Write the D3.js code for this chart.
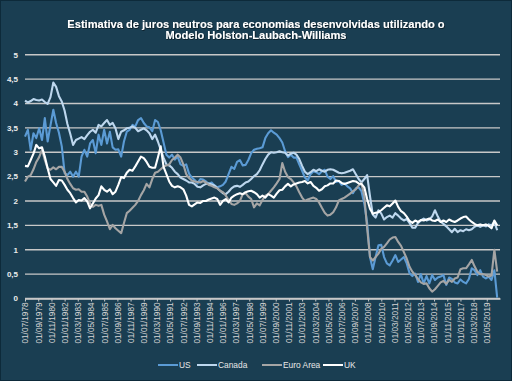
<!DOCTYPE html>
<html><head><meta charset="utf-8">
<script src="https://cdn.jsdelivr.net/npm/d3@7"></script>
<style>body{margin:0;background:#1a3e52;} svg{display:block}</style>
</head><body>
<script>
// ---------------- DATA ----------------
const titleLines = ["Estimativa de juros neutros para economias desenvolvidas utilizando o",
                    "Modelo Holston-Laubach-Williams"];
const startDate = "01/07/1978";          // first quarterly observation
const seriesNames = ["US", "Canada", "Euro Area", "UK"];
const usValues = [3.32,3.46,3.05,3.39,3.29,3.49,3.25,3.70,3.22,3.55,3.87,3.60,3.40,3.12,
  2.57,2.53,2.60,2.50,2.60,2.50,2.91,3.05,2.91,3.18,3.25,2.98,3.36,3.15,3.46,3.18,3.42,3.10,3.05,3.06,2.91,3.22,3.42,3.46,3.56,3.53,3.66,3.70,
  3.60,3.53,3.51,3.43,3.66,3.62,3.45,3.20,2.95,2.89,2.95,2.85,2.91,2.75,2.72,2.75,2.56,2.48,2.43,2.36,2.45,2.44,2.40,2.35,2.38,2.32,2.28,2.30,2.33,2.40,2.55,2.70,2.66,2.80,2.84,2.73,2.74,2.84,2.98,3.05,3.07,3.08,
  3.10,3.29,3.39,3.45,3.40,3.36,3.29,3.20,3.02,2.90,2.95,2.89,2.89,2.75,2.62,2.48,2.42,2.55,2.61,2.59,2.55,2.61,2.64,2.50,2.45,2.51,2.39,2.41,2.33,2.36,2.30,2.26,2.16,2.26,2.28,2.20,1.95,1.55,0.85,0.60,0.85,
  1.09,1.10,0.85,0.72,0.68,0.78,0.89,0.75,0.80,0.85,0.72,0.52,0.46,0.51,0.34,0.50,0.31,0.46,0.31,0.48,0.38,0.43,0.45,0.48,0.28,0.43,0.40,0.33,0.31,0.39,0.34,0.31,0.40,0.62,0.58,0.48,0.58,0.45,0.41,0.45,0.38,0.58,0.02];
const canadaValues = [4.06,4.02,4.05,4.09,4.07,4.06,4.08,4.03,3.99,4.13,4.43,4.34,4.15,4.04,3.85,3.58,3.38,3.15,3.25,3.28,
  3.31,3.27,3.35,3.42,3.46,3.40,3.56,3.53,3.60,3.66,3.56,3.60,3.49,3.27,3.42,3.45,3.49,3.50,3.53,3.50,3.43,3.46,
  3.49,3.45,3.39,3.27,3.36,3.22,3.05,2.89,2.75,2.73,2.68,2.60,2.55,2.48,2.45,2.42,2.38,2.38,2.35,2.29,2.28,2.32,2.35,2.36,2.34,2.32,2.26,2.21,2.16,2.14,2.19,2.26,2.30,2.31,2.29,2.33,2.38,2.40,2.45,2.51,2.55,2.63,
  2.75,2.86,2.95,3.00,2.99,3.00,3.02,3.00,2.99,2.93,2.97,2.99,2.95,2.86,2.72,2.60,2.55,2.59,2.64,2.61,2.65,2.62,2.60,2.64,2.65,2.64,2.61,2.58,2.57,2.58,2.60,2.62,2.65,2.55,2.45,2.38,2.45,2.53,2.10,1.72,1.66,
  1.81,1.74,1.62,1.67,1.70,1.66,1.75,1.70,1.64,1.60,1.63,1.55,1.45,1.45,1.55,1.60,1.64,1.60,1.62,1.68,1.81,1.68,1.58,1.53,1.48,1.42,1.36,1.43,1.36,1.40,1.38,1.42,1.40,1.42,1.47,1.50,1.47,1.50,1.48,1.52,1.50,1.57,1.40];
const euroValues = [2.40,2.50,2.53,2.65,2.80,2.90,3.05,2.84,2.67,2.64,2.69,2.65,2.70,2.70,2.60,2.45,2.35,2.26,2.23,2.24,
  2.19,2.19,2.09,1.95,1.88,1.92,1.90,1.92,1.72,1.58,1.42,1.51,1.44,1.39,1.34,1.55,1.75,1.80,1.86,1.92,2.00,2.12,
  2.22,2.35,2.28,2.45,2.58,2.60,2.65,2.70,2.73,2.75,2.84,2.89,2.95,2.89,2.75,2.55,2.47,2.42,2.40,2.39,2.38,2.41,2.38,2.33,2.31,2.28,2.26,2.21,2.18,2.11,2.02,1.94,1.92,1.95,2.00,2.14,2.16,2.09,2.04,1.87,1.95,1.91,
  2.02,2.11,2.14,2.21,2.28,2.36,2.45,2.78,2.60,2.49,2.45,2.38,2.30,2.18,2.07,2.00,2.03,2.05,2.07,2.04,1.97,1.86,1.76,1.70,1.72,1.77,1.87,2.01,2.04,2.07,2.11,2.15,2.20,2.24,2.32,2.36,2.10,1.45,0.85,0.78,0.85,
  0.92,1.02,1.06,1.13,1.21,1.25,1.26,1.16,1.08,0.95,0.82,0.65,0.55,0.48,0.40,0.33,0.30,0.31,0.21,0.14,0.19,0.26,0.33,0.36,0.30,0.38,0.34,0.41,0.43,0.60,0.62,0.62,0.70,0.79,0.66,0.55,0.50,0.50,0.48,0.45,0.47,1.00,0.55];
const ukValues = [2.72,2.71,2.84,2.97,3.15,3.08,3.10,2.91,2.67,2.45,2.38,2.31,2.43,2.42,2.33,2.23,2.16,2.06,1.97,2.02,
  2.01,2.06,1.99,1.85,1.95,2.05,2.12,2.30,2.23,2.19,2.24,2.14,2.19,2.33,2.49,2.47,2.58,2.64,2.62,2.71,2.81,2.91,
  2.88,2.80,2.70,2.68,2.68,2.89,3.12,2.70,2.55,2.40,2.31,2.28,2.30,2.28,2.24,2.11,1.92,1.89,1.93,1.97,1.96,2.00,2.00,2.03,2.05,2.07,2.04,1.92,2.00,2.04,1.97,2.07,2.11,2.14,2.16,2.14,2.18,2.20,2.21,2.18,2.14,2.07,
  2.11,2.07,2.14,2.11,2.07,2.15,2.22,2.23,2.30,2.35,2.30,2.34,2.36,2.38,2.39,2.41,2.36,2.39,2.31,2.27,2.21,2.24,2.30,2.32,2.36,2.36,2.42,2.41,2.37,2.35,2.37,2.39,2.41,2.40,2.36,2.35,2.28,2.04,1.84,1.74,1.76,
  1.77,1.81,1.86,1.91,1.89,1.95,2.01,1.88,1.79,1.75,1.68,1.59,1.55,1.60,1.57,1.61,1.60,1.62,1.64,1.60,1.59,1.62,1.57,1.60,1.57,1.62,1.59,1.57,1.60,1.64,1.67,1.68,1.62,1.57,1.53,1.50,1.52,1.50,1.52,1.49,1.44,1.60,1.50];
const xTickLabels = ["01/07/1978","01/09/1979","01/11/1980","01/01/1982","01/03/1983","01/05/1984","01/07/1985",
  "01/09/1986","01/11/1987","01/01/1989","01/03/1990","01/05/1991","01/07/1992","01/09/1993","01/11/1994","01/01/1996",
  "01/03/1997","01/05/1998","01/07/1999","01/09/2000","01/11/2001","01/01/2003","01/03/2004","01/05/2005","01/07/2006",
  "01/09/2007","01/11/2008","01/01/2010","01/03/2011","01/05/2012","01/07/2013","01/09/2014","01/11/2015","01/01/2017",
  "01/03/2018","01/05/2019"];
const yTickValues = [0,0.5,1,1.5,2,2.5,3,3.5,4,4.5,5];
const yTickLabels = ["0","0,5","1","1,5","2","2,5","3","3,5","4","4,5","5"];

// ---------------- CHART ----------------
const W = 512, H = 381;
const colors = ["#5b9bd5", "#bdd7ee", "#a5a5a5", "#ffffff"];
const font = "'Liberation Sans', Arial, sans-serif";
const parse = d3.timeParse("%d/%m/%Y");
const t0 = parse(startDate);
const dates = usValues.map((_, i) => d3.timeMonth.offset(t0, 3 * i));
const x = d3.scaleTime().domain([t0, d3.timeMonth.offset(t0, 504)]).range([25, 500]);
const y = d3.scaleLinear().domain([0, 5]).range([298.5, 54.7]);

const svg = d3.select("body").append("svg").attr("width", W).attr("height", H)
  .style("font-family", font);
svg.append("rect").attr("x", 0.5).attr("y", 0.5).attr("width", W - 1).attr("height", H - 1)
  .attr("fill", "#1a3e52").attr("stroke", "#0d2a3a");

const defs = svg.append("defs");
const f = defs.append("filter").attr("id", "sh").attr("x", "-5%").attr("y", "-30%").attr("width", "110%").attr("height", "160%");
f.append("feDropShadow").attr("dx", 0.6).attr("dy", 0.6).attr("stdDeviation", 0.5).attr("flood-color", "#000").attr("flood-opacity", 0.8);

// title
svg.append("g").selectAll("text").data(titleLines).join("text")
  .attr("x", 256).attr("y", (d, i) => 28 + i * 10.5)
  .attr("text-anchor", "middle").attr("fill", "#ffffff")
  .attr("font-size", 11.1).attr("font-weight", "bold")
  .attr("filter", "url(#sh)").text(d => d);

// gridlines
svg.append("g").selectAll("line").data(yTickValues).join("line")
  .attr("x1", 25).attr("x2", 500)
  .attr("y1", d => y(d)).attr("y2", d => y(d))
  .attr("stroke", "#c8c8c8").attr("stroke-width", 1.4);

// y labels
svg.append("g").selectAll("text").data(yTickValues).join("text")
  .attr("x", 18).attr("y", d => y(d)).attr("dy", "0.35em")
  .attr("text-anchor", "end").attr("fill", "#ececec")
  .attr("font-size", 8).attr("font-weight", "bold")
  .text((d, i) => yTickLabels[i]);

// x axis
const xAxis = d3.axisBottom(x)
  .tickValues(xTickLabels.map(parse))
  .tickSize(3).tickSizeOuter(0)
  .tickFormat((d, i) => xTickLabels[i]);
const gx = svg.append("g").attr("transform", `translate(0,${y(0)})`).call(xAxis);
gx.select(".domain").attr("stroke", "#c8c8c8").attr("stroke-width", 1.4);
gx.selectAll(".tick line").attr("stroke", "#c8c8c8");
gx.selectAll(".tick text")
  .attr("transform", "rotate(-90)")
  .attr("x", -4).attr("y", 0).attr("dy", "0.35em")
  .attr("text-anchor", "end")
  .attr("fill", "#d4d4d4").attr("font-size", 8.2).attr("font-family", font);

// series lines
const allValues = [usValues, canadaValues, euroValues, ukValues];
const line = d3.line().x((d, i) => x(dates[i])).y(d => y(d));
svg.append("g").selectAll("path").data(allValues).join("path")
  .attr("d", d => line(d))
  .attr("fill", "none")
  .attr("stroke", (d, i) => colors[i])
  .attr("stroke-width", 2.1)
  .attr("stroke-linejoin", "round");

// legend
const legendX = [158, 197, 262, 323];
const lg = svg.append("g").attr("transform", "translate(0,365)");
const items = lg.selectAll("g").data(seriesNames).join("g")
  .attr("transform", (d, i) => `translate(${legendX[i]},0)`);
items.append("line").attr("x1", 0).attr("x2", 20).attr("y1", 0).attr("y2", 0)
  .attr("stroke", (d, i) => colors[i]).attr("stroke-width", 2);
items.append("text").attr("x", 21).attr("dy", "0.35em")
  .attr("fill", "#e8e8e8").attr("font-size", 8.4).text(d => d);
</script>
</body></html>
